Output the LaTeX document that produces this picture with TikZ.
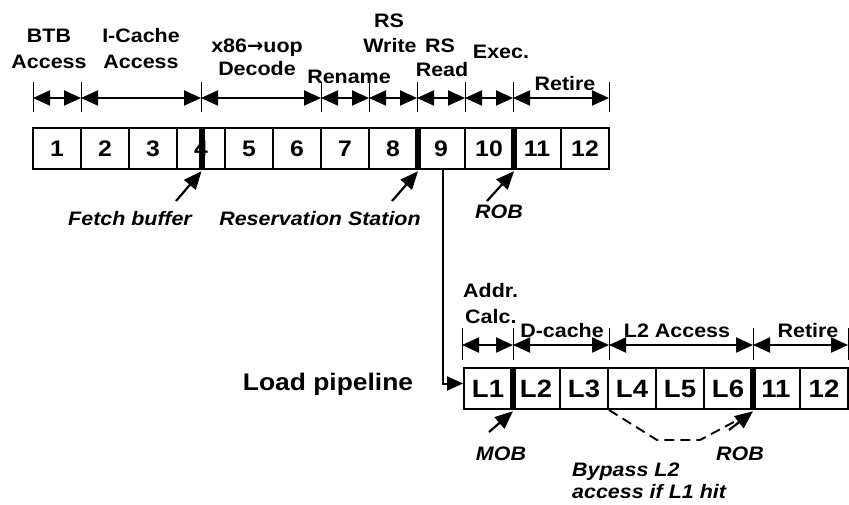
\documentclass[tikz,border=0pt]{standalone}
\usepackage{fontspec}
\setmainfont{Liberation Sans}[FakeStretch=1.1]
\newfontfamily\arrowfont{DejaVu Sans}
\usetikzlibrary{arrows.meta,calc}
\begin{document}
\begin{tikzpicture}[x=1pt,y=-1pt,
  cell/.style={draw, line width=2pt, minimum width=48pt, minimum height=41pt, inner sep=0pt,
    text height=16.2pt, text depth=0pt,
    font={\fontsize{22.5}{24}\selectfont\bfseries}},
  lcell/.style={cell, text height=18pt, text depth=0pt, font={\fontsize{25}{28}\selectfont\bfseries}},
  bar/.style={fill=black, draw=none, minimum width=6pt, minimum height=43pt, inner sep=0pt},
  lab/.style={anchor=base, inner sep=0pt, font={\fontsize{19.5}{22}\selectfont\bfseries}},
  ilab/.style={anchor=base, inner sep=0pt, font={\fontsize{19.5}{22}\selectfont\bfseries\itshape}},
  biglab/.style={anchor=base, inner sep=0pt, font={\fontsize{24}{28}\selectfont\bfseries}},
  dim/.style={line width=2pt, {Triangle[length=17pt,width=15pt]}-{Triangle[length=17pt,width=15pt]}},
  tick/.style={line width=0.8pt},
  callout/.style={line width=2.2pt, -{Triangle[length=18pt,width=15pt]}},
  conn/.style={line width=2pt, -{Triangle[length=16pt,width=14pt]}},
  bypass/.style={line width=1.9pt, dash pattern=on 10pt off 6pt}
]
\useasboundingbox (0,0) rectangle (849,504);

% ---------- main pipeline cells ----------
\foreach \i in {1,...,12} {
  \node[cell] (c\i) at ({33+48*\i-24},148.5) {\i};
}
\node[bar] (b4) at (201.5,148.5) {};
\node[bar] (b8) at (c8.east) {};
\node[bar] (b10) at (c10.east) {};

% ---------- main pipeline dimension lines ----------
\foreach \n/\x in {1/33,2/81,3/201,4/321,5/369,6/417,7/465,8/513,9/609} {
  \coordinate (ta\n) at (\x,98);
  \draw[tick] (\x,82) -- (\x,112);
}
\draw[dim] (ta1) -- (ta2);
\draw[dim] (ta2) -- (ta3);
\draw[dim] (ta3) -- (ta4);
\draw[dim] (ta4) -- (ta5);
\draw[dim] (ta5) -- (ta6);
\draw[dim] (ta6) -- (ta7);
\draw[dim] (ta7) -- (ta8);
\draw[dim] (ta8) -- (ta9);

% ---------- stage labels ----------
\node[lab] (btb1) at (49,42) {BTB};
\node[lab] (btb2) at (49,68) {Access};
\node[lab] (ic1) at (141,42) {I-Cache};
\node[lab] (ic2) at (141,68) {Access};
\node[lab] (dec1) at (257,52) {x86{\arrowfont\bfseries →}uop};
\node[lab] (dec2) at (257,75) {Decode};
\node[lab] (ren) at (349,83) {Rename};
\node[lab] (rsw1) at (389,27) {RS};
\node[lab] (rsw2) at (390,52) {Write};
\node[lab] (rsr1) at (440,52) {RS};
\node[lab] (rsr2) at (442,76) {Read};
\node[lab] (exe) at (501,58) {Exec.};
\node[lab] (ret) at (565,90) {Retire};

% ---------- buffer callouts ----------
\node[ilab] (fb) at (130,225) {Fetch buffer};
\node[ilab] (rs) at (320,225) {Reservation Station};
\node[ilab] (rob) at (499,218) {ROB};
\coordinate (fbt) at (176,201);
\coordinate (rst) at (392,201);
\coordinate (robt) at (487,201);
\draw[callout] (fbt) -- ($(b4.south)+(0,1)$);
\draw[callout] (rst) -- ($(b8.south)+(0,1)$);
\draw[callout] (robt) -- ($(b10.south)+(0,1)$);

% ---------- load pipeline cells ----------
\foreach \i/\t in {1/L1,2/L2,3/L3,4/L4,5/L5,6/L6,7/11,8/12} {
  \node[lcell] (l\i) at ({464+48*\i-24},388.5) {\t};
}
\node[bar] (lb1) at (l1.east) {};
\node[bar] (lb6) at (l6.east) {};

% connector from stage 9 to load pipeline
\draw[conn] ($(c9.south)+(2,0)$) |- ($(l1.west)+(0,-5)$);
\node[biglab] (lp) at (328,390) {Load pipeline};

% ---------- load pipeline dimension lines ----------
\foreach \n/\x in {1/462,2/513,3/609,4/753,5/848} {
  \coordinate (la\n) at (\x,345);
  \draw[tick] (\x,328) -- (\x,360);
}
\draw[dim] (la1) -- (la2);
\draw[dim] (la2) -- (la3);
\draw[dim] (la3) -- (la4);
\draw[dim] (la4) -- (la5);

\node[lab, anchor=base west] (addr) at (463,297) {Addr.};
\node[lab, anchor=base west] (calc) at (465,323) {Calc.};
\node[lab] (dc) at (562,337) {D-cache};
\node[lab] (l2a) at (677,337) {L2 Access};
\node[lab] (ret2) at (808,337) {Retire};

% ---------- load callouts ----------
\node[ilab] (mob) at (501,460) {MOB};
\node[ilab] (rob2) at (740,460) {ROB};
\coordinate (mobt) at (489,432);
\coordinate (rob2t) at (729,430);
\draw[callout] (mobt) -- ($(lb1.south)+(0,1)$);
\draw[callout] (rob2t) -- ($(lb6.south)+(0,1)$);

\coordinate (d1) at (657,440);
\coordinate (d2) at (700,440);
\draw[bypass] (l3.south east) -- (d1) -- (d2) -- ($(lb6.south)+(-12,8)$);

\node[ilab, anchor=base west] (byp1) at (572,476) {Bypass L2};
\node[ilab, anchor=base west] (byp2) at (572,498) {access if L1 hit};
\end{tikzpicture}
\end{document}
